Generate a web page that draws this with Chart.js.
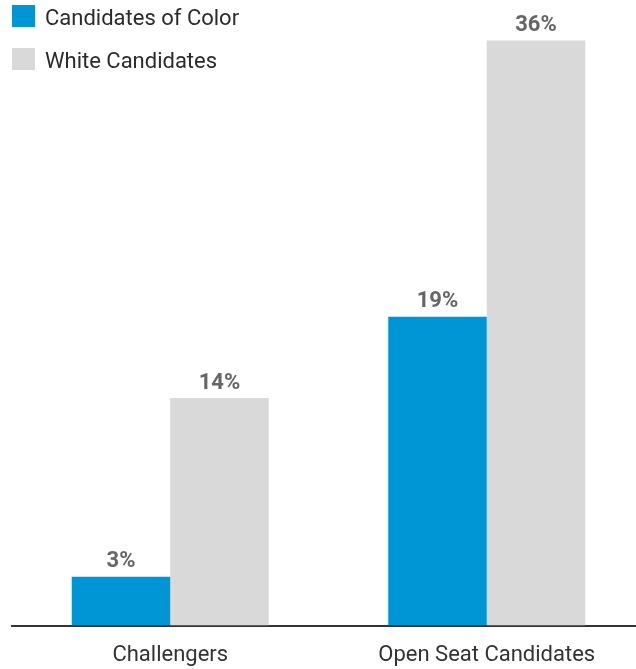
<!DOCTYPE html>
<html>
<head>
<meta charset="utf-8">
<script src="https://cdn.jsdelivr.net/npm/chart.js@4"></script>
<style>
  html, body { margin: 0; padding: 0; background: #fff; overflow: hidden; height: 669px; }
  #wrap { position: relative; width: 645px; height: 686px; }
  #legend { position: absolute; left: 12px; top: 5px; font-family: Roboto, sans-serif; font-size: 22px; color: #2b2b2b; }
  #legend .item { display: flex; align-items: center; height: 22px; margin-bottom: 21px; }
  #legend .box { width: 23px; height: 22px; margin-right: 10px; }
  #legend .txt { position: relative; top: 1px; }
</style>
</head>
<body>
<div id="wrap">
  <canvas id="myChart"></canvas>
  <div id="legend"></div>
</div>
<script>
// categories and series
const categories = ['Challengers', 'Open Seat Candidates'];
const seriesNames = ['Candidates of Color', 'White Candidates'];
const colorValues = [3, 19];
const whiteValues = [14, 36];
const seriesColors = ['#0096d6', '#d9d9d9'];

// puts "NN%" above every bar
const valueLabels = {
  id: 'valueLabels',
  afterDatasetsDraw(chart) {
    const ctx = chart.ctx;
    ctx.save();
    ctx.font = 'bold 22px Roboto';
    ctx.fillStyle = '#666';
    ctx.textAlign = 'center';
    ctx.textBaseline = 'middle';
    chart.data.datasets.forEach((ds, i) => {
      chart.getDatasetMeta(i).data.forEach((bar, j) => {
        ctx.fillText(ds.data[j] + '%', bar.x, bar.y - 15);
      });
    });
    ctx.restore();
  }
};

const ctx = document.getElementById('myChart');

const chart = new Chart(ctx, {
  type: 'bar',
  data: {
    labels: categories,
    datasets: [
      { label: seriesNames[0], data: colorValues, backgroundColor: seriesColors[0] },
      { label: seriesNames[1], data: whiteValues, backgroundColor: seriesColors[1] }
    ]
  },
  options: {
    responsive: true,
    maintainAspectRatio: false,
    animation: false,
    layout: { padding: { left: 12, top: 0, right: 0, bottom: 0 } },
    datasets: {
      bar: { categoryPercentage: 0.6225, barPercentage: 1, borderWidth: 0 }
    },
    plugins: {
      legend: { display: false },
      tooltip: { enabled: false }
    },
    scales: {
      x: {
        grid: { display: false, drawTicks: false },
        border: { display: true, color: '#333', width: 2 },
        ticks: { color: '#333', padding: 17, font: { family: 'Roboto', size: 22 } }
      },
      y: {
        display: false,
        min: 0,
        max: 38.5
      }
    }
  },
  plugins: [valueLabels]
});

// legend built from the datasets
const legend = document.getElementById('legend');
chart.data.datasets.forEach(ds => {
  const item = document.createElement('div');
  item.className = 'item';
  const box = document.createElement('span');
  box.className = 'box';
  box.style.background = ds.backgroundColor;
  const text = document.createElement('span');
  text.className = 'txt';
  text.textContent = ds.label;
  item.appendChild(box);
  item.appendChild(text);
  legend.appendChild(item);
});
</script>
</body>
</html>
